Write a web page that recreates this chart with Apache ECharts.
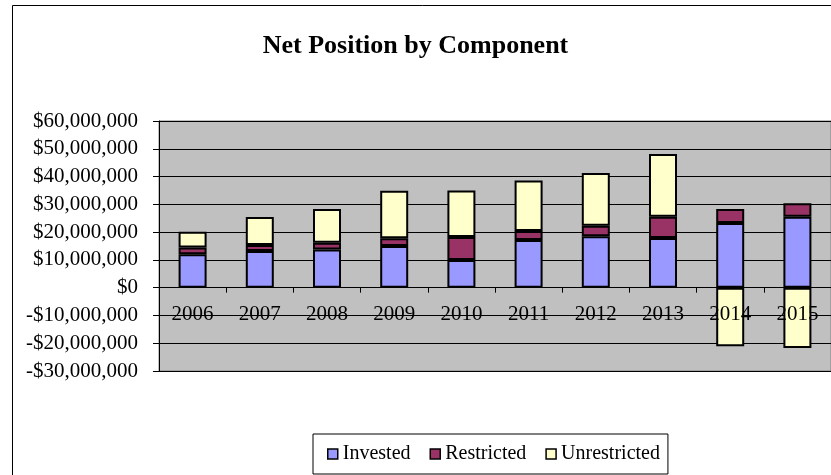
<!DOCTYPE html>
<html>
<head>
<meta charset="utf-8">
<script src="https://cdn.jsdelivr.net/npm/echarts@6/dist/echarts.min.js"></script>
<style>
html,body{margin:0;padding:0;background:#fff;}
#c{width:831px;height:475px;}
</style>
</head>
<body>
<div id="c"></div>
<script>
var categories = ['2006','2007','2008','2009','2010','2011','2012','2013','2014','2015'];
var invested = [12000000,13200000,13700000,15000000,10000000,17200000,18500000,17900000,23300000,25500000];
var restricted = [2500000,2200000,2500000,2800000,8200000,3200000,3800000,7600000,5000000,4900000];
var unrestricted = [5600000,10000000,12100000,17100000,16800000,18200000,19000000,22600000,-21100000,-21700000];
var seriesNames = ['Invested','Restricted','Unrestricted'];
var colors = ['#9999ff','#993366','#ffffcc'];
var yMin = -30000000, yMax = 60000000, yStep = 10000000;

var FONT = '"Liberation Serif","Times New Roman",serif';
function money(v){
  var s = Math.abs(v).toString().replace(/\B(?=(\d{3})+(?!\d))/g, ',');
  return (v < 0 ? '-$' : '$') + s;
}
var gridTop = 121, gridBottomPx = 371;
var zeroOffset = -(gridBottomPx - gridTop) * (0 - yMin) / (yMax - yMin);

var chart = echarts.init(document.getElementById('c'), null, {renderer:'canvas'});
var dataArr = [invested, restricted, unrestricted];
var series = seriesNames.map(function(n, i){
  return {
    name: n, type: 'bar', stack: 'total', barWidth: 28,
    data: dataArr[i],
    itemStyle: {color: colors[i], borderColor: '#000', borderWidth: 2},
    emphasis: {disabled: true}
  };
});
chart.setOption({
  animation: false,
  backgroundColor: '#fff',
  textStyle: {fontFamily: FONT},
  title: {
    text: 'Net Position by Component', left: 'center', top: 28,
    textStyle: {fontFamily: FONT, fontWeight: 'bold', fontSize: 26, color: '#000'}
  },
  graphic: [{
    type: 'rect', z: 100, silent: true,
    shape: {x: 12.5, y: 5.5, width: 900, height: 600},
    style: {fill: 'none', stroke: '#000', lineWidth: 1}
  }],
  legend: {
    left: 313, top: 434,
    padding: [10, 8, 10, 14],
    itemGap: 19, itemWidth: 10, itemHeight: 10,
    icon: 'rect',
    borderColor: '#000', borderWidth: 1,
    textStyle: {fontFamily: FONT, fontSize: 20, color: '#000', lineHeight: 20, padding: [0,0,0,0]},
    itemStyle: {borderColor: '#000', borderWidth: 1.5},
    data: seriesNames
  },
  grid: {
    left: 159, top: gridTop, right: -13, bottom: 475 - gridBottomPx,
    show: true, backgroundColor: '#c0c0c0', borderColor: '#808080', borderWidth: 1,
    containLabel: false
  },
  xAxis: {
    type: 'category', data: categories, z: 10,
    offset: zeroOffset,
    axisLine: {onZero: false, lineStyle: {color: '#000', width: 1}},
    axisTick: {show: true, length: 5, lineStyle: {color: '#000'}},
    axisLabel: {margin: 16, fontFamily: FONT, fontSize: 21, color: '#000', interval: 0},
    splitLine: {show: false}
  },
  yAxis: {
    type: 'value', min: yMin, max: yMax, interval: yStep,
    axisLine: {show: true, lineStyle: {color: '#000'}},
    axisTick: {show: true, length: 6, lineStyle: {color: '#000'}},
    axisLabel: {margin: 21, fontFamily: FONT, fontSize: 21, color: '#000', formatter: money},
    splitLine: {show: true, lineStyle: {color: '#000', width: 1}}
  },
  series: series
});
</script>
</body>
</html>
